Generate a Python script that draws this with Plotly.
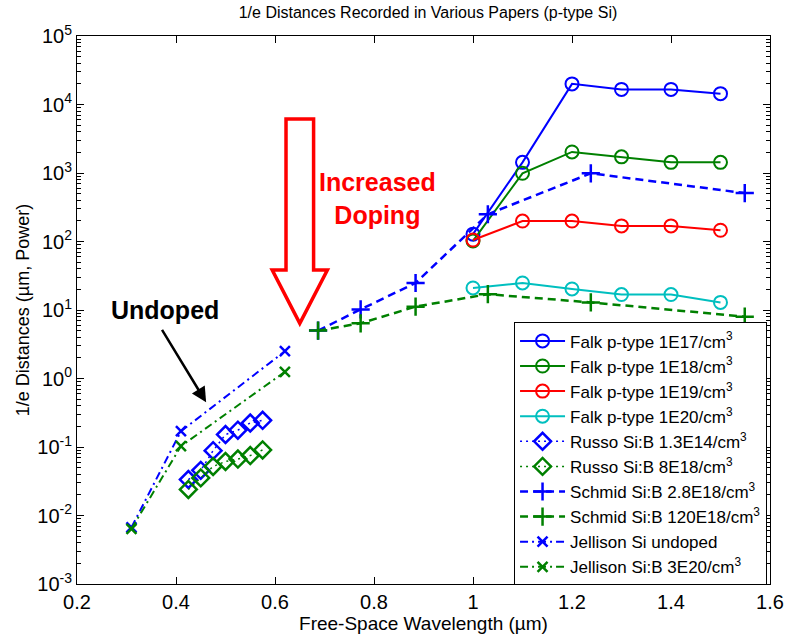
import plotly.graph_objects as go

# Free-space wavelength (um) and 1/e distances (um, power)
falk_wl = [1.0, 1.1, 1.2, 1.3, 1.4, 1.5]
falk_1e17 = [128, 1430, 20000, 16600, 16600, 14400]
falk_1e18 = [102, 990, 2030, 1720, 1430, 1430]
falk_1e19 = [105, 199, 199, 169, 169, 146]
falk_1e20 = [21, 24.8, 20.3, 16.8, 16.8, 12.9]

russo_wl = [0.425, 0.45, 0.475, 0.50, 0.525, 0.55, 0.575]
russo_1p3e14 = [0.0335, 0.0456, 0.0885, 0.152, 0.176, 0.224, 0.245]
russo_8e18 = [0.024, 0.0354, 0.052, 0.0615, 0.0666, 0.075, 0.0906]

schmid_wl = [0.687, 0.773, 0.884, 1.03, 1.238, 1.549]
schmid_2p8e18 = [5.0, 10.2, 24.8, 250, 990, 509]
schmid_120e18 = [5.0, 6.4, 11.2, 17.0, 12.9, 8.0]

jellison_wl = [0.31, 0.41, 0.62]
jellison_undoped = [0.0067, 0.17, 2.5]
jellison_3e20 = [0.0064, 0.103, 1.25]

x_tickvals = [0.2, 0.4, 0.6, 0.8, 1.0, 1.2, 1.4, 1.6]
x_ticktext = ["0.2", "0.4", "0.6", "0.8", "1", "1.2", "1.4", "1.6"]
y_exponents = [-3, -2, -1, 0, 1, 2, 3, 4, 5]

BLUE = "rgb(0,0,255)"
GREEN = "rgb(0,128,0)"
RED = "rgb(255,0,0)"
CYAN = "rgb(0,191,191)"
FONT = "Liberation Sans, Arial, sans-serif"

fig = go.Figure()


def add(x, y, name, color, symbol, size, dash, lw=2, mlw=2):
    fig.add_trace(go.Scatter(
        x=x, y=y, name=name, mode="lines+markers",
        line=dict(color=color, width=lw, dash=dash),
        marker=dict(symbol=symbol, size=size, color=color,
                    line=dict(color=color, width=mlw)),
    ))


add(falk_wl, falk_1e17, "Falk p-type 1E17/cm<sup>3</sup>", BLUE, "circle-open", 13, "solid")
add(falk_wl, falk_1e18, "Falk p-type 1E18/cm<sup>3</sup>", GREEN, "circle-open", 13, "solid")
add(falk_wl, falk_1e19, "Falk p-type 1E19/cm<sup>3</sup>", RED, "circle-open", 13, "solid")
add(falk_wl, falk_1e20, "Falk p-type 1E20/cm<sup>3</sup>", CYAN, "circle-open", 13, "solid")
add(russo_wl, russo_1p3e14, "Russo Si:B 1.3E14/cm<sup>3</sup>", BLUE, "diamond-open", 13, "2px,4px", lw=1.5, mlw=2.5)
add(russo_wl, russo_8e18, "Russo Si:B 8E18/cm<sup>3</sup>", GREEN, "diamond-open", 13, "2px,4px", lw=1.5, mlw=2.5)
add(schmid_wl, schmid_2p8e18, "Schmid Si:B 2.8E18/cm<sup>3</sup>", BLUE, "cross-thin-open", 13, "8px,5px", lw=2.5, mlw=2.5)
add(schmid_wl, schmid_120e18, "Schmid Si:B 120E18/cm<sup>3</sup>", GREEN, "cross-thin-open", 13, "8px,5px", lw=2.5, mlw=2.5)
add(jellison_wl, jellison_undoped, "Jellison Si undoped", BLUE, "x-thin-open", 10, "8px,4px,2px,4px", lw=2, mlw=2.5)
add(jellison_wl, jellison_3e20, "Jellison Si:B 3E20/cm<sup>3</sup>", GREEN, "x-thin-open", 10, "8px,4px,2px,4px", lw=2, mlw=2.5)

# Plot area in pixels: x 77..780, y 36..591
L, R, T, B = 77, 780, 36, 591
W, H = 796, 642


def px(xp, yp):
    return (xp - L) / (R - L), (B - yp) / (B - T)


# Hollow red "Increased Doping" arrow
pts = [(289, 120), (317, 120), (317, 273), (331, 273), (303, 327),
       (275, 273), (289, 273)]
path = "M " + " L ".join(f"{px(a, b)[0]:.4f},{px(a, b)[1]:.4f}" for a, b in pts) + " Z"
fig.add_shape(type="path", path=path, xref="paper", yref="paper",
              line=dict(color=RED, width=3.5), fillcolor="rgba(0,0,0,0)")

tx, ty = px(382, 201)
fig.add_annotation(x=tx, y=ty, xref="paper", yref="paper",
                   xanchor="center", yanchor="middle",
                   text="<b>Increased<br>Doping</b>", showarrow=False,
                   font=dict(family=FONT, size=25, color=RED), align="center")

ux, uy = px(166, 314)
fig.add_annotation(x=ux, y=uy, xref="paper", yref="paper",
                   xanchor="center", yanchor="middle",
                   text="<b>Undoped</b>", showarrow=False,
                   font=dict(family=FONT, size=25, color="black"))

# Black arrow pointing at the undoped curve
hx, hy = px(208, 407)
fig.add_annotation(x=hx, y=hy, xref="paper", yref="paper", text="",
                   showarrow=True, arrowhead=2, arrowsize=1.2, arrowwidth=2.5,
                   arrowcolor="black", ax=163 - 208, ay=333 - 407)

axis_common = dict(
    showline=True, linecolor="black", linewidth=1, mirror="ticks",
    ticks="inside", ticklen=7, tickcolor="black", tickwidth=1,
    showgrid=False, zeroline=False,
    tickfont=dict(family=FONT, size=20, color="black"),
)

fig.update_layout(
    width=W, height=H,
    margin=dict(l=L, r=W - R, t=T, b=H - B),
    paper_bgcolor="white", plot_bgcolor="white",
    font=dict(family=FONT, color="black"),
    title=dict(text="1/e Distances Recorded in Various Papers (p-type Si)",
               x=428 / W, xanchor="center", y=1 - 12 / H, yanchor="middle",
               font=dict(family=FONT, size=16, color="black")),
    xaxis=dict(range=[0.2, 1.6], tickvals=x_tickvals, ticktext=x_ticktext,
               title=dict(text="Free-Space Wavelength (\u00b5m)", standoff=4,
                          font=dict(family=FONT, size=19)),
               **axis_common),
    yaxis=dict(type="log", range=[-3, 5],
               tickvals=[10 ** e for e in y_exponents],
               ticktext=[f"10<sup>{e}</sup>" for e in y_exponents],
               minor=dict(ticks="inside", ticklen=4, tickcolor="black",
                          dtick="D1", showgrid=False),
               title=dict(text="1/e Distances (\u00b5m, Power)", standoff=2,
                          font=dict(family=FONT, size=18)),
               **axis_common),
    legend=dict(x=(777 - L) / (R - L), y=(B - 326) / (B - T),
                xanchor="right", yanchor="top",
                bgcolor="white", bordercolor="black", borderwidth=1,
                font=dict(family=FONT, size=17, color="black"),
                tracegroupgap=0, itemwidth=45),
    showlegend=True,
)

fig.write_html("out.html")
